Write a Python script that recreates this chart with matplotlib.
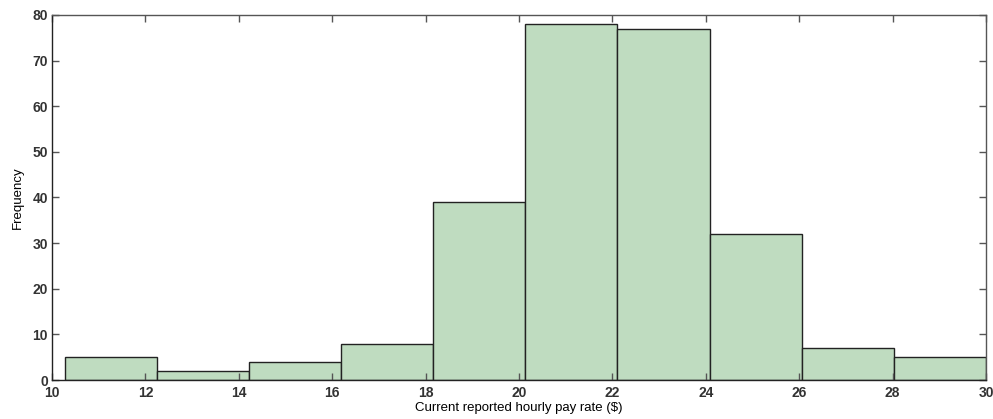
import numpy as np
import matplotlib
matplotlib.use("Agg")
import matplotlib.pyplot as plt

plt.rcParams['font.family'] = ['Liberation Sans', 'DejaVu Sans']

# histogram data
bin_edges = np.linspace(10.27, 30.0, 11)
counts = [5, 2, 4, 8, 39, 78, 77, 32, 7, 5]
xticks = [10, 12, 14, 16, 18, 20, 22, 24, 26, 28, 30]
yticks = [0, 10, 20, 30, 40, 50, 60, 70, 80]

fig = plt.figure(figsize=(9.93, 4.19), dpi=100)
ax = fig.add_axes([52/993, 39/419, 934/993, 365/419])

ax.bar(bin_edges[:-1], counts, width=np.diff(bin_edges), align='edge',
       color='#bfdcc0', edgecolor='#222222', linewidth=1.0)

ax.set_xlim(10, 30)
ax.set_ylim(0, 80)
ax.set_xticks(xticks)
ax.set_yticks(yticks)
ax.tick_params(direction='in', top=True, right=True, length=5, width=1,
               color='#555555', labelsize=10, labelcolor='#333333')
ax.tick_params(axis='x', pad=4)
ax.tick_params(axis='y', pad=3)
for lab in ax.get_xticklabels() + ax.get_yticklabels():
    lab.set_fontweight('bold')
for s in ax.spines.values():
    s.set_color('#555555')
    s.set_linewidth(1)
ax.spines['left'].set_color('#222222')
ax.spines['bottom'].set_color('#222222')

ax.set_xlabel('Current reported hourly pay rate ($)', fontsize=9.5, labelpad=2)
ax.set_ylabel('Frequency', fontsize=9.5, labelpad=6)

fig.savefig('out.png', dpi=100)
